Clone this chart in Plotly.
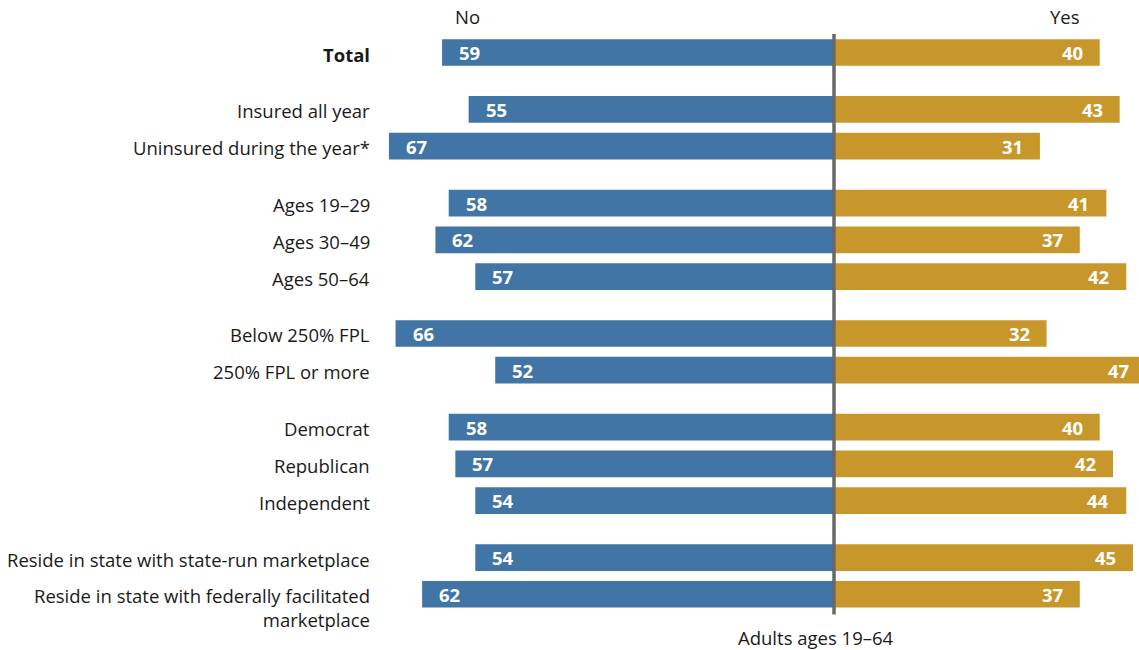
import plotly.graph_objects as go

# ---- data ----
categories = [
    "<b>Total</b>",
    "Insured all year",
    "Uninsured during the year*",
    "Ages 19–29",
    "Ages 30–49",
    "Ages 50–64",
    "Below 250% FPL",
    "250% FPL or more",
    "Democrat",
    "Republican",
    "Independent",
    "Reside in state with state-run marketplace",
    "Reside in state with federally facilitated<br>marketplace",
]
group_sizes = [1, 2, 3, 2, 3, 2]

# bar lengths as drawn in the picture
no_bar_lengths = [59, 55, 67, 58, 60, 54, 66, 51, 58, 57, 54, 54, 62]
yes_bar_lengths = [40, 43, 31, 41, 37, 44, 32, 47, 40, 42, 44, 45, 37]
# numbers printed on the bars
no_labels = [59, 55, 67, 58, 62, 57, 66, 52, 58, 57, 54, 54, 62]
yes_labels = [40, 43, 31, 41, 37, 42, 32, 47, 40, 42, 44, 45, 37]

series_names = ["No", "Yes"]
footer_text = "Adults ages 19–64"

# ---- styling / layout ----
BLUE = "#4075A5"
GOLD = "#C8972C"
LINE = "#686868"
TEXT = "#1a1a1a"
FONT = "Open Sans"

W, H = 1139, 650
left_px = 380                # plot-area left edge
zero_px = 834
px_per_unit = 6.643
row_px = 36.73
first_row_px = 52.5
group_gap = 1.55

def paper_x(px):
    return (px - left_px) / (W - left_px)

def paper_y(py):
    return 1 - py / H

# row positions from group structure
positions = []
p = 0.0
for gi, n in enumerate(group_sizes):
    if gi > 0:
        p += group_gap - 1
    for _ in range(n):
        positions.append(p)
        p += 1

x_range = [(left_px - zero_px) / px_per_unit, (W - zero_px) / px_per_unit]
y_top = -first_row_px / row_px
y_range = [y_top + H / row_px, y_top]

fig = go.Figure()
fig.add_trace(go.Bar(
    y=positions, x=[-v for v in no_bar_lengths], orientation="h",
    marker=dict(color=BLUE, line=dict(width=0)), width=0.727,
    name=series_names[0], hoverinfo="skip",
))
fig.add_trace(go.Bar(
    y=positions, x=yes_bar_lengths, orientation="h",
    marker=dict(color=GOLD, line=dict(width=0)), width=0.727,
    name=series_names[1], hoverinfo="skip",
))

annotations = []
pad_units = 15.0 / px_per_unit
for yp, v, lab in zip(positions, no_bar_lengths, no_labels):
    annotations.append(dict(
        x=-v + pad_units, y=yp, xref="x", yref="y", text=f"<b>{lab}</b>",
        showarrow=False, xanchor="left", yanchor="middle",
        font=dict(family=FONT, size=18.5, color="white"),
    ))
for yp, v, lab in zip(positions, yes_bar_lengths, yes_labels):
    annotations.append(dict(
        x=v - pad_units, y=yp, xref="x", yref="y", text=f"<b>{lab}</b>",
        showarrow=False, xanchor="right", yanchor="middle",
        font=dict(family=FONT, size=18.5, color="white"),
    ))
for yp, cat in zip(positions, categories):
    annotations.append(dict(
        x=0, y=yp, xref="paper", yref="y", text=cat, showarrow=False,
        xanchor="right", yanchor="top", xshift=-8, yshift=13, align="right",
        font=dict(family=FONT, size=18.5, color=TEXT),
    ))
# headers and footer
for txt, px, py in [(series_names[0], 467, 16.5), (series_names[1], 1064.5, 16.5),
                    (footer_text, 815.5, 637)]:
    annotations.append(dict(x=paper_x(px), y=paper_y(py), xref="paper", yref="paper",
                            text=txt, showarrow=False, xanchor="center", yanchor="middle",
                            font=dict(family=FONT, size=18.5, color=TEXT)))

fig.update_layout(
    width=W, height=H,
    margin=dict(l=left_px, r=0, t=0, b=0),
    paper_bgcolor="white", plot_bgcolor="white",
    barmode="overlay", showlegend=False,
    xaxis=dict(range=x_range, visible=False, fixedrange=True),
    yaxis=dict(range=y_range, visible=False, fixedrange=True),
    annotations=annotations,
    shapes=[dict(type="line", xref="x", yref="paper", x0=0, x1=0,
                 y0=paper_y(34), y1=paper_y(614.5),
                 line=dict(color=LINE, width=3.5))],
)

fig.write_html(
    "out.html",
    config={"displayModeBar": False},
    post_script="document.body.style.margin='0';document.body.style.overflow='hidden';",
)
